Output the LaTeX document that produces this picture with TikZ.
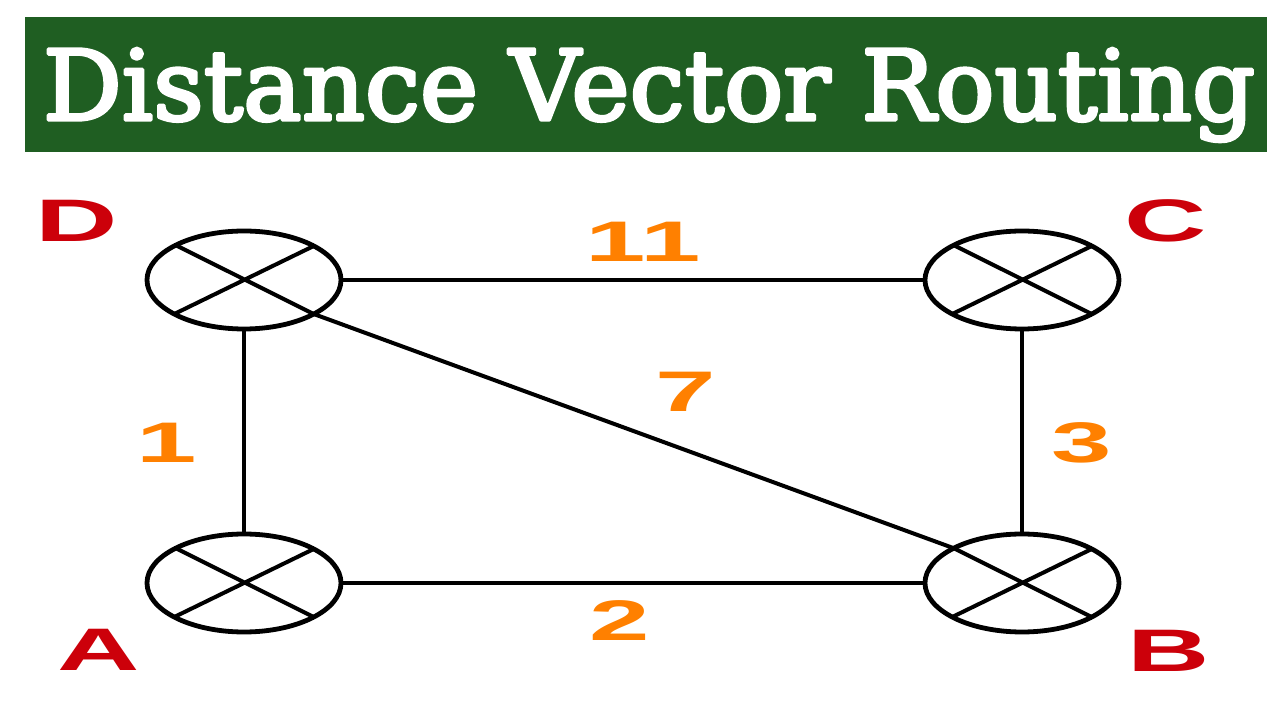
\documentclass[tikz,border=0pt]{standalone}
\usepackage{fontspec}
\usepackage{graphicx}
\usetikzlibrary{shapes.geometric}
\newfontfamily\titlefont[FakeBold=3.5]{DejaVu Serif}
\newfontfamily\labelfont{Liberation Sans}
\definecolor{bannergreen}{RGB}{31,94,34}
\definecolor{labelred}{RGB}{204,0,10}
\definecolor{costorange}{RGB}{255,128,0}
\tikzset{
  router/.style={ellipse,draw=black,line width=2.4bp,minimum width=97bp,minimum height=49bp,inner sep=0pt,outer sep=0pt},
  xline/.style={black,line width=2bp},
  link/.style={black,line width=2bp},
  lbl/.style={text=labelred,inner sep=0pt,font=\labelfont\bfseries\fontsize{30bp}{32bp}\selectfont},
  cost/.style={text=costorange,inner sep=0pt,font=\labelfont\bfseries\fontsize{28.6bp}{30bp}\selectfont},
}
\newcommand{\wide}[1]{\scalebox{1.9}[1]{#1}}
\begin{document}
\begin{tikzpicture}[line join=bevel,]
\useasboundingbox (0bp,0bp) rectangle (640bp,360bp);
%%
\fill [bannergreen] (12.5bp,284bp) rectangle (633.5bp,351.5bp);
\node (title) at (324.5bp,300bp) [anchor=base,inner sep=0pt,text=white,font=\titlefont\fontsize{48.7bp}{58bp}\selectfont] {\resizebox{606bp}{\height}{Distance Vector Routing}};
%%
\node (node_D) at (122bp,220bp) [router] {};
  \node (node_C) at (511bp,220bp) [router] {};
  \node (node_A) at (122bp,68.5bp) [router] {};
  \node (node_B) at (511bp,68.5bp) [router] {};
\foreach \n in {D,C,A,B}
  \draw [xline] (node_\n.26.8) -- (node_\n.206.8) (node_\n.153.2) -- (node_\n.-26.8);
%
\draw [link] (node_D) -- (node_C);
  \draw [link] (node_D) -- (node_A);
  \draw [link] (node_C) -- (node_B);
  \draw [link] (node_A) -- (node_B);
  \draw [link] (node_D.-26.8) -- (node_B.153.2);
%
\node (label_D) at (38.5bp,249.5bp) [lbl] {\wide{D}};
  \node (label_C) at (583bp,249.5bp) [lbl] {\wide{C}};
  \node (label_A) at (49.5bp,35bp) [lbl] {\wide{A}};
  \node (label_B) at (584.5bp,34.5bp) [lbl] {\wide{B}};
%
\node (cost_DC) at (321.5bp,239bp) [cost] {\wide{11}};
  \node (cost_DB) at (343bp,164bp) [cost] {\wide{7}};
  \node (cost_DA) at (83.5bp,138.5bp) [cost] {\wide{1}};
  \node (cost_CB) at (541bp,138.5bp) [cost] {\wide{3}};
  \node (cost_AB) at (310bp,49.5bp) [cost] {\wide{2}};
%
\end{tikzpicture}
\end{document}
